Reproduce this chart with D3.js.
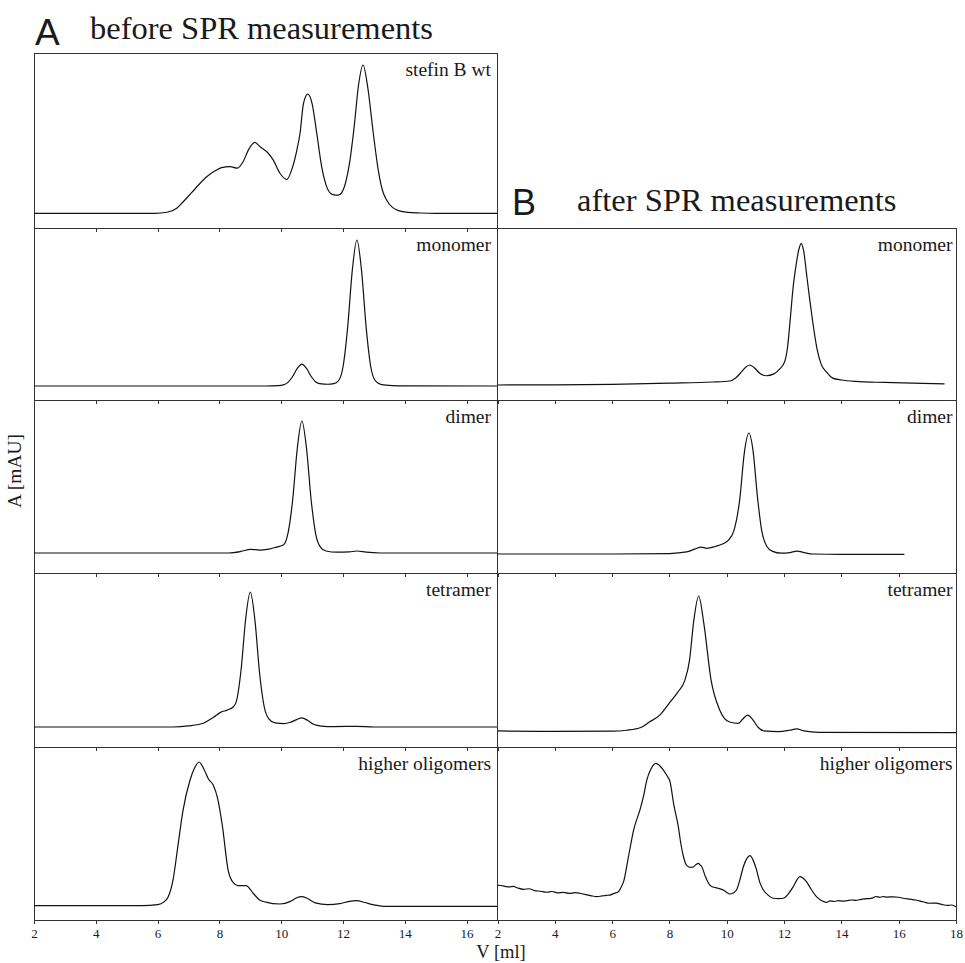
<!DOCTYPE html>
<html>
<head>
<meta charset="utf-8">
<script src="https://cdn.jsdelivr.net/npm/d3@7"></script>
<style>
body { margin: 0; background: #fff; }
svg text { font-family: "Liberation Serif", "Times New Roman", serif; fill: #1a1a1a; }
.frame, .tick line { stroke: #333; shape-rendering: crispEdges; }
.trace { fill: none; stroke: #111; stroke-width: 1.2; }
</style>
</head>
<body>
<svg id="chart" width="965" height="963"></svg>
<script>
/* [V (ml), A (relative, 100 = panel maximum)] */
var wtBefore = [[2,0],[5,0],[5.9,0],[6.31,0.7],[6.62,3.4],[6.83,7.8],[7.1,13.9],[7.59,24.7],[7.85,28.5],
    [8.07,30.8],[8.34,31.5],[8.58,30.4],[8.77,34.9],[8.94,42.8],[9.15,47.8],[9.31,45],[9.58,40.5],[9.74,36],
    [9.96,27],[10.18,22.8],[10.35,30],[10.5,42],[10.61,54],[10.72,74],[10.86,80.4],[11.0,74],[11.15,54],
    [11.31,31.5],[11.47,18],[11.65,12.8],[11.84,12.2],[11.96,14],[12.1,22],[12.22,35],[12.36,58],[12.5,86],
    [12.65,100],[12.8,85],[12.98,54],[13.15,28],[13.3,14],[13.41,9],[13.6,4],[13.8,1.8],[14.1,0.6],
    [14.5,0.2],[15,0],[17,0]];

var monoBefore = [[2,0],[9.5,0],[9.9,0.3],[10.07,0.8],[10.22,2.5],[10.37,6.5],[10.52,12],[10.67,15],
    [10.82,12],[10.97,6.5],[11.12,2.8],[11.3,1.4],[11.5,1.2],[11.7,1.6],[11.85,3.5],[12.0,13],[12.15,40],
    [12.3,79],[12.45,100],[12.6,79],[12.75,40],[12.9,13],[13.05,3.5],[13.25,1],[13.6,0.3],[14,0.1],[17,0]];

var dimerBefore = [[2,0],[8.3,0],[8.7,1.2],[9.0,2.8],[9.3,2.2],[9.6,3],[9.85,4.5],[10.07,6],[10.22,15],
    [10.37,40],[10.52,79],[10.67,100],[10.82,79],[10.97,40],[11.12,14],[11.27,4.5],[11.45,1.5],[11.8,0.6],
    [12.2,0.8],[12.45,1.5],[12.75,0.6],[13.2,0],[17,0]];

var tetraBefore = [[2,0],[6.5,0],[7.0,0.8],[7.5,3],[7.8,7],[8.05,11],[8.25,12.5],[8.45,15],[8.55,19],
    [8.7,42],[8.85,80],[9.0,100],[9.15,79],[9.3,40],[9.45,15],[9.6,6],[9.8,3],[10.1,2.5],[10.3,3.5],
    [10.5,5.5],[10.67,6.7],[10.85,5],[11.05,2],[11.3,0.7],[11.7,0.3],[12.45,0.5],[13,0],[17,0]];

var oligoBefore = [[2,0],[4.5,0],[5.0,0.1],[5.5,0],[6.0,0.8],[6.2,2.5],[6.34,6],[6.5,18],[6.66,42],
    [6.82,66],[7.05,87.5],[7.2,96],[7.34,100],[7.5,95],[7.65,88],[7.8,84],[7.95,74],[8.1,55],[8.28,25],
    [8.45,16],[8.6,14],[8.86,14],[9.1,8.5],[9.3,4],[9.5,2.5],[9.96,1.2],[10.3,3],[10.5,5.5],[10.66,6.3],
    [10.85,5],[11.1,2],[11.5,0.8],[11.9,1.5],[12.2,3],[12.45,3.5],[12.7,2.2],[13.0,0.6],[13.3,-0.4],[17,-0.5]];

var monoAfter = [[2,0.7],[4,0.8],[6,1.2],[8,2],[9.5,2.8],[10.1,3.5],[10.3,5.5],[10.5,9.5],[10.65,13],
    [10.8,14.7],[10.95,13],[11.15,9],[11.38,7.2],[11.65,8.5],[11.85,12],[12.02,17],[12.12,27],[12.23,50],
    [12.31,68],[12.4,82],[12.52,96],[12.6,100],[12.68,95],[12.8,76],[12.9,60],[13.0,45],[13.15,26],
    [13.3,15],[13.47,10],[13.7,5.5],[14,4.2],[14.5,3.2],[15.5,2.5],[16.5,2],[17.6,1.5]];

var dimerAfter = [[2,0.8],[6,0.8],[8,1.2],[8.6,2.5],[8.9,5],[9.1,6.5],[9.3,5.5],[9.6,7],[9.85,9],
    [10.05,12],[10.25,20],[10.45,45],[10.62,85],[10.77,100],[10.92,85],[11.07,48],[11.22,20],[11.4,7],
    [11.6,3],[11.9,1.5],[12.2,2],[12.45,3.2],[12.7,2],[13,0.8],[14,0.5],[16.2,0.5]];

var tetraAfter = [[2,1.5],[4,1.2],[6,1.3],[6.5,2],[7.0,4],[7.3,8],[7.66,13],[8.0,22],[8.3,30],[8.53,38],
    [8.7,53],[8.85,82],[9.02,100],[9.2,80],[9.45,39],[9.75,17],[10.1,8],[10.4,7],[10.55,10],[10.73,13],
    [10.9,10],[11.1,4],[11.3,1.5],[11.8,1],[12.2,2],[12.44,3],[12.7,1.5],[13.2,0.5],[18,0.3]];

var oligoAfter = [[2.0,17.0],[2.2,16.4],[2.4,15.8],[2.55,16.1],[2.7,15.0],[2.91,14.1],[3.1,14.5],[3.3,13.2],
    [3.5,12.8],[3.72,12.1],[3.9,12.6],[4.1,11.7],[4.3,12.0],[4.5,11.3],[4.7,11.8],[4.87,11.4],[5.05,10.6],
    [5.25,9.8],[5.47,9.1],[5.65,9.6],[5.8,10.0],[5.92,10.2],[6.05,11.2],[6.22,12.5],[6.3,15],[6.4,19.3],
    [6.57,36.3],[6.75,54.5],[6.97,68.2],[7.1,78],[7.21,88.6],[7.35,96],[7.53,100],[7.65,98.5],[7.79,95.4],
    [7.9,92],[8.02,87.5],[8.15,72],[8.31,56.8],[8.4,45],[8.49,36.3],[8.58,31],[8.66,29.5],[8.75,29],
    [8.84,29.5],[8.93,31],[9.01,31.8],[9.08,30.5],[9.13,29.5],[9.25,23],[9.41,17.0],[9.55,15.5],[9.7,14.8],
    [9.88,13.6],[10.0,12],[10.11,10.9],[10.22,11.6],[10.34,13.6],[10.45,20],[10.58,29.5],[10.7,35],
    [10.81,37.0],[10.92,34],[11.04,27.3],[11.15,19],[11.28,13.6],[11.45,10],[11.62,8.0],[11.8,7.8],
    [11.97,8.0],[12.15,11],[12.32,15.9],[12.45,20.5],[12.55,22.7],[12.65,22],[12.78,19.3],[12.95,14],
    [13.13,9.1],[13.3,6.5],[13.48,5.2],[13.6,6.2],[13.75,5.8],[13.9,6.4],[14.05,6.1],[14.18,6.3],[14.35,6.8],
    [14.5,6.6],[14.7,7.3],[14.9,7.7],[15.1,8.3],[15.2,9.2],[15.34,8.6],[15.45,9.2],[15.6,8.8],[15.8,9.0],
    [16.0,8.7],[16.15,8.0],[16.4,7.4],[16.6,6.8],[16.85,5.6],[17.08,4.6],[17.3,4.7],[17.5,3.8],[17.7,3.1],
    [17.85,3.4],[18.0,2.2]];

var ticksLeft  = [2, 4, 6, 8, 10, 12, 14, 16];
var ticksRight = [2, 4, 6, 8, 10, 12, 14, 16, 18];

var rows = [53, 228, 400, 573, 747, 920];

var xLeft  = d3.scaleLinear().domain([2, 17]).range([34, 497.5]);
var xRight = d3.scaleLinear().domain([2, 18]).range([497.5, 956]);
var cols = [{x: xLeft, ticks: ticksLeft, pad: 6.5}, {x: xRight, ticks: ticksRight, pad: 3.5}];

/* base/top: gap (px) between baseline and frame bottom, and between peak and frame top */
var panels = [
    {label: 'stefin B wt',      data: wtBefore,    col: 0, row: 0, base: 14.7, top: 12},
    {label: 'monomer',          data: monoBefore,  col: 0, row: 1, base: 14,   top: 12},
    {label: 'dimer',            data: dimerBefore, col: 0, row: 2, base: 20,   top: 21},
    {label: 'tetramer',         data: tetraBefore, col: 0, row: 3, base: 20,   top: 19},
    {label: 'higher oligomers', data: oligoBefore, col: 0, row: 4, base: 14.3, top: 15},
    {label: 'monomer',          data: monoAfter,   col: 1, row: 1, base: 14,   top: 15.3},
    {label: 'dimer',            data: dimerAfter,  col: 1, row: 2, base: 18,   top: 33},
    {label: 'tetramer',         data: tetraAfter,  col: 1, row: 3, base: 14,   top: 23},
    {label: 'higher oligomers', data: oligoAfter,  col: 1, row: 4, base: 10,   top: 16.3}
];

var svg = d3.select('#chart');

function drawPanel(p) {
    var c = cols[p.col],
        x = c.x,
        top = rows[p.row],
        bottom = rows[p.row + 1];
    var y = d3.scaleLinear().domain([0, 100]).range([bottom - p.base, top + p.top]);
    var g = svg.append('g');

    g.append('rect')
     .attr('class', 'frame')
     .attr('x', x.range()[0]).attr('y', top)
     .attr('width', x.range()[1] - x.range()[0])
     .attr('height', bottom - top)
     .attr('fill', 'none');

    var axis = d3.axisBottom(x)
                 .tickValues(c.ticks)
                 .tickSize(4)
                 .tickSizeOuter(0)
                 .tickPadding(4.5);
    if (p.row < 4) {
        axis.tickFormat('');
    }
    var ax = g.append('g')
              .attr('transform', 'translate(0,' + bottom + ')')
              .call(axis);
    ax.select('.domain').remove();
    ax.selectAll('text')
      .style('font-family', '"Liberation Serif", serif')
      .style('font-size', '13px')
      .attr('fill', '#1a1a1a');

    var line = d3.line()
                 .x(function (d) { return x(d[0]); })
                 .y(function (d) { return y(d[1]); })
                 .curve(d3.curveMonotoneX);
    g.append('path')
     .attr('class', 'trace')
     .attr('d', line(p.data));

    g.append('text')
     .attr('x', x.range()[1] - c.pad)
     .attr('y', top + 23)
     .attr('text-anchor', 'end')
     .style('font-size', '19.5px')
     .text(p.label);
}

panels.forEach(drawPanel);

svg.append('text')
   .attr('x', 35).attr('y', 45)
   .style('font-family', '"Liberation Sans", Arial, sans-serif')
   .style('font-size', '37px')
   .text('A');
svg.append('text')
   .attr('x', 90).attr('y', 39)
   .style('font-size', '32.5px')
   .text('before SPR measurements');

svg.append('text')
   .attr('x', 512).attr('y', 215)
   .style('font-family', '"Liberation Sans", Arial, sans-serif')
   .style('font-size', '36px')
   .text('B');
svg.append('text')
   .attr('x', 577).attr('y', 210.5)
   .style('font-size', '32.5px')
   .text('after SPR measurements');

svg.append('text')
   .attr('transform', 'translate(21,471) rotate(-90)')
   .attr('text-anchor', 'middle')
   .style('font-size', '19.5px')
   .text('A [mAU]');

svg.append('text')
   .attr('x', 501).attr('y', 958)
   .attr('text-anchor', 'middle')
   .style('font-size', '18.5px')
   .text('V [ml]');
</script>
</body>
</html>
